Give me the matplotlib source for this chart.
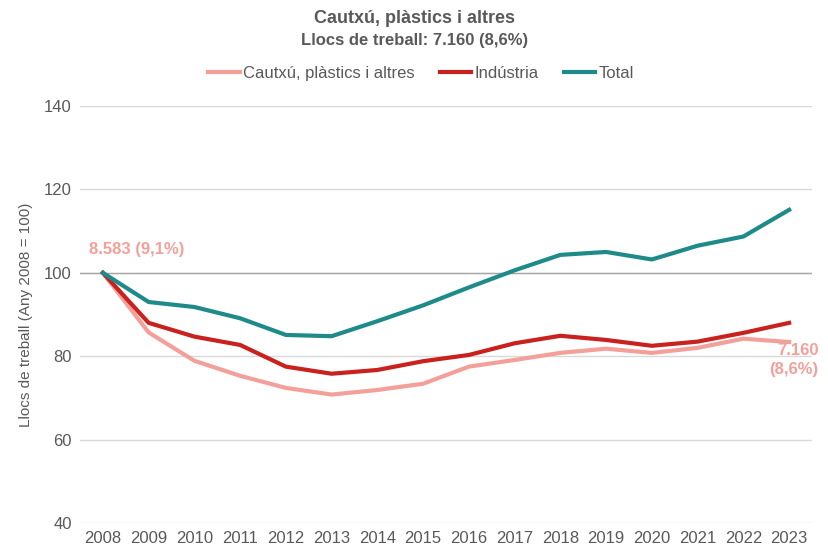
import matplotlib.pyplot as plt
from matplotlib import font_manager

years = [str(y) for y in range(2008, 2024)]
cautxu = [100, 85.7, 78.9, 75.3, 72.4, 70.8, 71.9, 73.4, 77.5, 79.1, 80.8, 81.8, 80.8, 82.0, 84.2, 83.4]
industria = [100, 88.0, 84.7, 82.7, 77.5, 75.8, 76.7, 78.8, 80.3, 83.1, 84.9, 83.9, 82.5, 83.5, 85.6, 88.0]
total = [100, 93.0, 91.8, 89.1, 85.1, 84.8, 88.4, 92.2, 96.5, 100.6, 104.3, 105.0, 103.2, 106.5, 108.7, 115.1]

names = {f.name for f in font_manager.fontManager.ttflist}
fam = 'Liberation Sans Narrow' if 'Liberation Sans Narrow' in names else 'Liberation Sans'
plt.rcParams['font.family'] = [fam, 'DejaVu Sans']

grey = '#595959'
c_pink = '#F4A09A'
c_red = '#C9211E'
c_teal = '#1F8A8A'

fig = plt.figure(figsize=(8.29, 5.51), dpi=100)
ax = fig.add_axes([0.0965, 0.0508, 0.883, 0.7568])

x = range(len(years))
ax.plot(x, cautxu, color=c_pink, lw=3, label='Cautxú, plàstics i altres')
ax.plot(x, industria, color=c_red, lw=3, label='Indústria')
ax.plot(x, total, color=c_teal, lw=3, label='Total')

ax.set_xlim(-0.5, 15.5)
ax.set_ylim(40, 140)
ax.set_yticks([40, 60, 80, 100, 120, 140])
ax.set_xticks(list(x))
ax.set_xticklabels(years)
ax.tick_params(length=0, labelsize=12, colors=grey, pad=6)
for s in ax.spines.values():
    s.set_visible(False)
ax.grid(axis='y', color='#D9D9D9', lw=1)
ax.axhline(100, color='#A6A6A6', lw=1, zorder=1)
ax.set_axisbelow(True)
ax.set_ylabel('Llocs de treball (Any 2008 = 100)', fontsize=11, color=grey, labelpad=8)

# value labels for first and last point
ax.annotate('8.583 (9,1%)', (0, cautxu[0]), xytext=(-10, 17), textcoords='offset points',
            ha='left', va='center', color=c_pink, fontsize=12, fontweight='bold')
ax.annotate('7.160\n(8,6%)', (15, cautxu[-1]), xytext=(21, -13), textcoords='offset points',
            ha='right', va='center', color=c_pink, fontsize=12, fontweight='bold',
            linespacing=1.4)

fig.text(0.5, 0.967, 'Cautxú, plàstics i altres', ha='center', va='center',
         fontsize=13, fontweight='bold', color=grey)
fig.text(0.5, 0.927, 'Llocs de treball: 7.160 (8,6%)', ha='center', va='center',
         fontsize=12, fontweight='bold', color=grey)
fig.legend(loc='center', bbox_to_anchor=(0.508, 0.867), ncol=3, frameon=False,
           fontsize=12, labelcolor=grey, handlelength=1.9, handletextpad=0.2,
           columnspacing=1.5)

fig.savefig('out.png', dpi=100)
